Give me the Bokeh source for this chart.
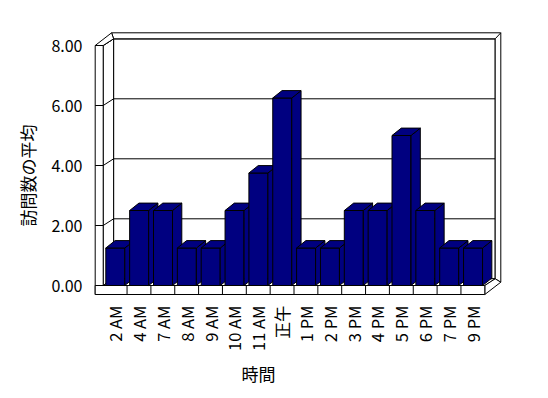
import numpy as np
from bokeh.plotting import figure
from bokeh.models import Range1d, FixedTicker, PrintfTickFormatter, Title
from bokeh.embed import file_html
from bokeh.resources import INLINE

# ---- data ----
categories = ["2 AM", "4 AM", "7 AM", "8 AM", "9 AM", "10 AM", "11 AM", "正午",
              "1 PM", "2 PM", "3 PM", "4 PM", "5 PM", "6 PM", "7 PM", "9 PM"]
values = [1.25, 2.5, 2.5, 1.25, 1.25, 2.5, 3.75, 6.25,
          1.25, 1.25, 2.5, 2.5, 5.0, 2.5, 1.25, 1.25]
y_ticks = [0, 2, 4, 6, 8]
y_title = "訪問数の平均"
x_title = "時間"

# ---- layout constants (canvas pixels) ----
W, H = 540, 390
FL, FR, FT, FB = 90, 506, 28, 296          # frame edges
PX0, CW = 102.7, 23.85                      # category 0 left edge, cell width
Y0, PPU = 285.0, 30.0                       # value 0 y, px per unit

def dx(px):
    return px / CW

def dy(px):
    return px / PPU

x_lo = (FL - PX0) / CW
x_hi = (FR - PX0) / CW
y_lo = (Y0 - FB) / PPU
y_hi = (Y0 - FT) / PPU

n = len(categories)
ymax = y_ticks[-1]
FONT = "Noto Sans CJK JP"

p = figure(width=W, height=H, output_backend="svg", toolbar_location=None,
           x_range=Range1d(x_lo, x_hi), y_range=Range1d(y_lo, y_hi),
           min_border_left=FL, min_border_right=W - FR,
           min_border_top=FT, min_border_bottom=H - FB)
p.outline_line_color = None
p.grid.visible = False
p.background_fill_color = "white"

# wall geometry
wdx, wdy = dx(10.4), dy(6.7)
thx, thy = dx(8.0), dy(6.0)       # wall thickness
floor_d = dy(9.0)                 # floor thickness

LINE = dict(line_color="black", line_width=1)

# back wall face
p.patch([wdx, n + wdx, n + wdx, wdx], [wdy, wdy, ymax + wdy, ymax + wdy],
        fill_color="white", **LINE)
for v in y_ticks:
    p.line([wdx, n + wdx], [v + wdy, v + wdy], **LINE)
# left wall inner side face
p.patch([0, wdx, wdx, 0], [0, wdy, ymax + wdy, ymax], fill_color="white", **LINE)
for v in y_ticks:
    p.line([0, wdx], [v, v + wdy], **LINE)
# floor top face
p.patch([0, n, n + wdx, wdx], [0, 0, wdy, wdy], fill_color="white", **LINE)
# back/right wall rim
rx = n + wdx + dx(5.6)
p.patch([wdx - dx(2), rx, rx, n + wdx, n + wdx, wdx],
        [ymax + wdy + thy, ymax + wdy + thy, dy(3.3), wdy, ymax + wdy, ymax + wdy],
        fill_color="white", **LINE)
p.line([n + wdx, rx], [ymax + wdy, ymax + wdy + thy], **LINE)
# floor right face
p.patch([n, n + wdx, rx, n], [0, wdy, dy(3.3), -floor_d], fill_color="white", **LINE)
# left wall front face
p.patch([-thx, 0, 0, -thx], [-floor_d, -floor_d, ymax, ymax], fill_color="white", **LINE)
for v in y_ticks:
    p.line([-thx, 0], [v, v], **LINE)
# left wall top
p.patch([-thx, 0, wdx, wdx - dx(2)], [ymax, ymax, ymax + wdy, ymax + wdy + thy],
        fill_color="white", **LINE)
# floor front face with cell dividers
p.patch([-thx, n, n, -thx], [-floor_d, -floor_d, 0, 0], fill_color="white", **LINE)
for i in range(1, n):
    p.line([i, i], [-floor_d, 0], **LINE)

# ---- bars (3D columns) ----
bl, bw = dx(2.6), dx(19.0)
bdx, bdy = dx(9.3), dy(7.4)
xs, ys = [], []
for i, v in enumerate(values):
    L = i + bl
    R = L + bw
    xs.append([L, R, R, L]); ys.append([0, 0, v, v])                          # front
    xs.append([R, R + bdx, R + bdx, R]); ys.append([0, bdy, v + bdy, v])      # side
    xs.append([L, R, R + bdx, L + bdx]); ys.append([v, v, v + bdy, v + bdy])  # top
p.patches(xs, ys, fill_color="#000080", line_color="black", line_width=1)

# ---- axes ----
xa = p.xaxis[0]
xa.ticker = FixedTicker(ticks=[i + 0.5 for i in range(n)])
xa.major_label_overrides = {i + 0.5: c for i, c in enumerate(categories)}
xa.major_label_orientation = np.pi / 2
xa.axis_line_color = None
xa.major_tick_in = 0
xa.major_tick_out = 0
xa.minor_tick_in = 0
xa.minor_tick_out = 0
xa.major_label_standoff = 9
xa.major_label_text_font = FONT
xa.major_label_text_font_size = "16.5px"
xa.major_label_text_color = "black"

ya = p.yaxis[0]
ya.ticker = FixedTicker(ticks=y_ticks)
ya.formatter = PrintfTickFormatter(format="%.2f")
ya.axis_line_color = None
ya.major_tick_in = 0
ya.major_tick_out = 0
ya.minor_tick_in = 0
ya.minor_tick_out = 0
ya.major_label_standoff = 8
ya.major_label_text_font = FONT
ya.major_label_text_font_size = "16px"
ya.major_label_text_color = "black"

# axis titles
p.add_layout(Title(text=x_title, align="left", offset=(258 - FL) - 17,
                   text_font=FONT, text_font_size="17px", text_font_style="normal",
                   text_color="black", standoff=10), "below")
p.add_layout(Title(text=y_title, align="left", offset=(FB - 175) - 51,
                   text_font=FONT, text_font_size="17px", text_font_style="normal",
                   text_color="black", standoff=17), "left")

open("out.html", "w").write(file_html(p, INLINE))
